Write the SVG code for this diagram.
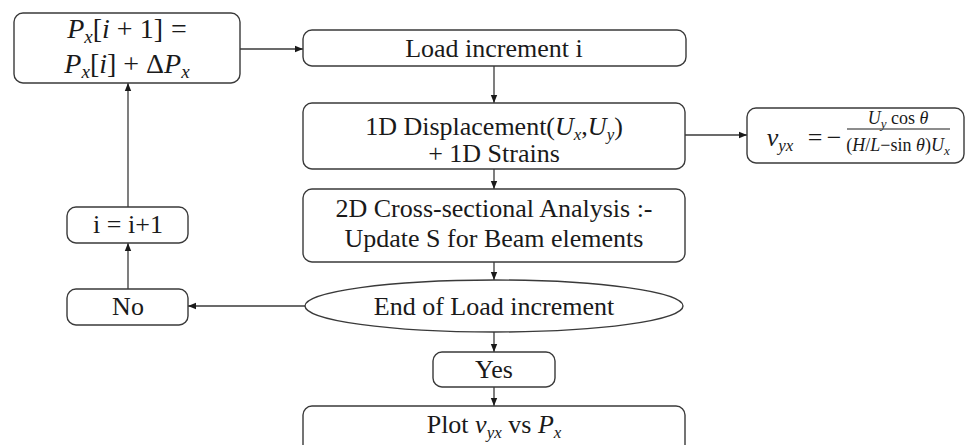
<svg xmlns="http://www.w3.org/2000/svg" width="966" height="445" viewBox="0 0 966 445">
  <style>
    .box { fill: #ffffff; stroke: #3a3a3a; stroke-width: 1.4; }
    .t { font-family: "Liberation Serif", "Times New Roman", serif; font-size: 26px; fill: #1a1a1a; text-anchor: middle; }
    .m { font-family: "Liberation Serif", "Times New Roman", serif; font-size: 28px; fill: #1a1a1a; text-anchor: middle; }
    .f { font-family: "Liberation Serif", "Times New Roman", serif; font-size: 18px; fill: #1a1a1a; text-anchor: middle; }
    .it { font-style: italic; }
    .sub { font-style: italic; font-size: 17px; }
    .subm { font-style: italic; font-size: 19px; }
    .subs { font-style: italic; font-size: 13px; }
    .edge { fill: none; stroke: #3a3a3a; stroke-width: 1.3; marker-end: url(#arrow); }
  </style>
  <defs>
    <marker id="arrow" viewBox="0 0 10 10" refX="10" refY="5" markerWidth="8" markerHeight="8" markerUnits="userSpaceOnUse" orient="auto">
      <path d="M0,1 L10,5 L0,9 Z" fill="#1a1a1a"/>
    </marker>
  </defs>
  <rect width="966" height="445" fill="#ffffff"/>

  <g id="connectors">
    <line class="edge" x1="240" y1="49" x2="303" y2="49"/>
    <line class="edge" x1="494" y1="66" x2="494" y2="103"/>
    <line class="edge" x1="685" y1="135" x2="747" y2="135"/>
    <line class="edge" x1="494" y1="169" x2="494" y2="189"/>
    <line class="edge" x1="494" y1="262" x2="494" y2="280"/>
    <line class="edge" x1="305" y1="306" x2="188" y2="306"/>
    <line class="edge" x1="128" y1="289" x2="128" y2="243"/>
    <line class="edge" x1="128" y1="207" x2="128" y2="83"/>
    <line class="edge" x1="494" y1="332" x2="494" y2="352"/>
    <line class="edge" x1="494" y1="387" x2="494" y2="406"/>
  </g>

  <g id="update-load">
    <rect class="box" x="14" y="13" width="226" height="70" rx="9"/>
    <text class="m" x="127" y="38"><tspan class="it">P</tspan><tspan class="subm" dy="5">x</tspan><tspan dy="-5">[</tspan><tspan class="it">i</tspan> + 1]<tspan dx="8">=</tspan></text>
    <text class="m" x="127" y="73"><tspan class="it">P</tspan><tspan class="subm" dy="5">x</tspan><tspan dy="-5">[</tspan><tspan class="it">i</tspan>] + Δ<tspan class="it">P</tspan><tspan class="subm" dy="5">x</tspan></text>
  </g>

  <g id="load-increment">
    <rect class="box" x="303" y="30" width="383" height="36" rx="9"/>
    <text class="t" x="494" y="57">Load increment i</text>
  </g>

  <g id="displacement">
    <rect class="box" x="303" y="103" width="382" height="66" rx="9"/>
    <text class="t" x="494" y="135">1D Displacement(<tspan class="it">U</tspan><tspan class="sub" dy="5">x</tspan><tspan dy="-5">,</tspan><tspan class="it">U</tspan><tspan class="sub" dy="5">y</tspan><tspan dy="-5">)</tspan></text>
    <text class="t" x="494" y="162">+ 1D Strains</text>
  </g>

  <g id="poisson">
    <rect class="box" x="747" y="108" width="217" height="55" rx="9"/>
    <text class="t" x="780" y="146"><tspan class="it">ν</tspan><tspan class="sub" dy="5">yx</tspan></text>
    <text class="t" x="815" y="146">=</text>
    <text class="t" x="834" y="146">−</text>
    <text class="f" x="898" y="124"><tspan class="it">U</tspan><tspan class="subs" dy="4">y</tspan><tspan dy="-4"> cos </tspan><tspan class="it">θ</tspan></text>
    <line x1="847" y1="129" x2="950" y2="129" stroke="#1a1a1a" stroke-width="1"/>
    <text class="f" x="898" y="151">(<tspan class="it">H</tspan>/<tspan class="it">L</tspan>−sin <tspan class="it">θ</tspan>)<tspan class="it">U</tspan><tspan class="subs" dy="4">x</tspan></text>
  </g>

  <g id="cross-section">
    <rect class="box" x="303" y="189" width="382" height="73" rx="9"/>
    <text class="t" x="494" y="217">2D Cross-sectional Analysis :-</text>
    <text class="t" x="494" y="247">Update S for Beam elements</text>
  </g>

  <g id="end-check">
    <ellipse class="box" cx="494" cy="306" rx="189" ry="26"/>
    <text class="t" x="494" y="315">End of Load increment</text>
  </g>

  <g id="no">
    <rect class="box" x="67" y="289" width="121" height="36" rx="9"/>
    <text class="t" x="128" y="315">No</text>
  </g>

  <g id="next-step">
    <rect class="box" x="67" y="207" width="121" height="36" rx="9"/>
    <text class="t" x="128" y="233">i = i+1</text>
  </g>

  <g id="yes">
    <rect class="box" x="433" y="352" width="122" height="35" rx="9"/>
    <text class="t" x="494" y="378">Yes</text>
  </g>

  <g id="plot">
    <rect class="box" x="303" y="406" width="382" height="50" rx="9"/>
    <text class="t" x="494" y="433">Plot <tspan class="it">ν</tspan><tspan class="sub" dy="5">yx</tspan><tspan dy="-5"> vs </tspan><tspan class="it">P</tspan><tspan class="sub" dy="5">x</tspan></text>
  </g>
</svg>
